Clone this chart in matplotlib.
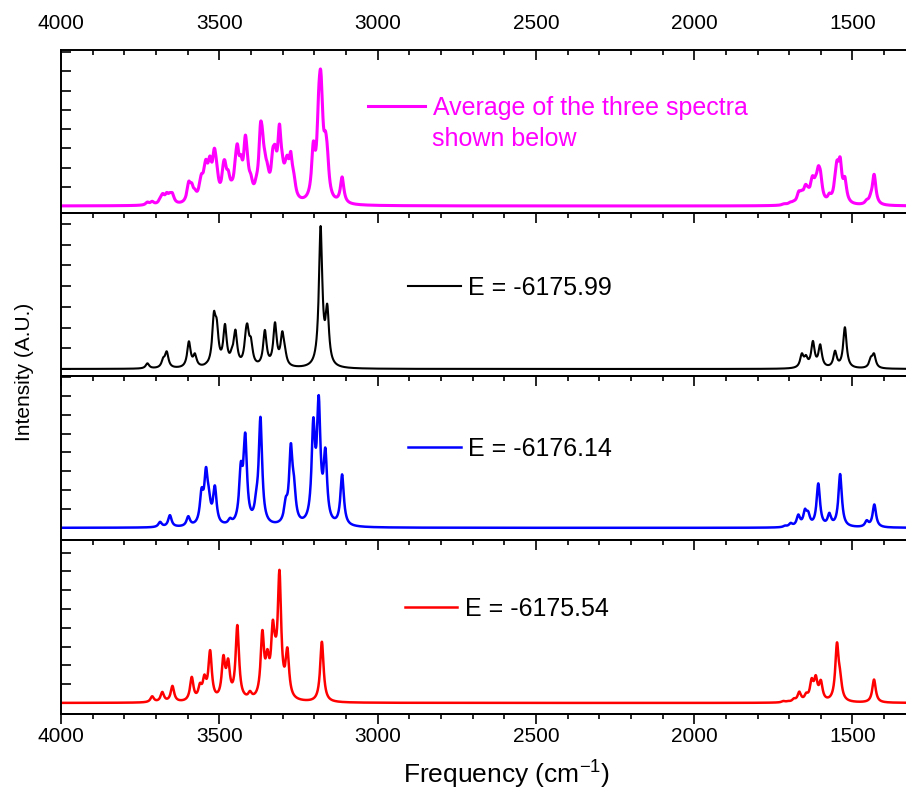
import numpy as np
import matplotlib.pyplot as plt
from matplotlib.ticker import MultipleLocator, FixedLocator

plt.rcParams['font.family'] = ['Liberation Sans', 'DejaVu Sans']
plt.rcParams['mathtext.default'] = 'regular'

# Peak positions (cm-1) and peak heights (arbitrary units)
black_pos = [3727, 3677, 3666, 3596, 3577, 3540, 3517, 3508, 3482, 3460, 3449, 3416, 3411, 3400,
             3356, 3324, 3301, 3293, 3180, 3159,
             1660, 1647, 1625, 1602, 1555, 1524, 1442, 1432]
black_h = [17, 35, 53, 83, 47, 20, 172, 150, 135, 65, 118, 120, 135, 95,
           117, 140, 113, 70, 428, 195,
           47, 42, 84, 74, 55, 125, 37, 47]

blue_pos = [3687, 3656, 3598, 3556, 3542, 3533, 3514, 3466, 3432, 3418, 3383, 3370,
            3290, 3274, 3264, 3203, 3186, 3165, 3112,
            1713, 1695, 1671, 1650, 1640, 1608, 1573, 1539, 1455, 1431]
blue_h = [18, 38, 35, 120, 182, 120, 127, 30, 198, 285, 117, 332,
          93, 253, 155, 330, 397, 240, 160,
          7, 15, 40, 57, 50, 133, 45, 161, 23, 70]

red_pos = [3712, 3680, 3648, 3587, 3561, 3547, 3529, 3487, 3472, 3443, 3421, 3403,
           3364, 3348, 3331, 3323, 3310, 3285, 3176,
           1718, 1703, 1685, 1668, 1646, 1629, 1616, 1600, 1549, 1539, 1432]
red_h = [20, 33, 51, 78, 60, 85, 158, 143, 133, 233, 30, 36,
         218, 161, 248, 200, 398, 166, 183,
         6, 6, 14, 34, 31, 74, 83, 69, 181, 98, 70]

labels = ['Average of the three spectra', 'E = -6175.99', 'E = -6176.14', 'E = -6175.54']
label2 = 'shown below'
colors = ['#FF00FF', 'black', '#0000FF', '#FF0000']
xticks_major = [4000, 3500, 3000, 2500, 2000, 1500]

freq = np.arange(1300, 4000.5, 0.5)
hwhm = 6.5  # lorentzian broadening


def lorentz(x, x0):
    return 1.0 / (1.0 + ((x - x0) / hwhm) ** 2)


def spectrum(pos, heights):
    pos = np.array(pos, float)
    h = np.array(heights, float)
    m = lorentz(pos[:, None], pos[None, :])
    amp = h.copy()
    # positive amplitudes so that the summed curve hits the read heights
    for _ in range(300):
        amp *= h / (m @ amp)
    return (amp[:, None] * lorentz(freq[None, :], pos[:, None])).sum(axis=0)


black = spectrum(black_pos, black_h)
blue = spectrum(blue_pos, blue_h)
red = spectrum(red_pos, red_h)
avg = (black + blue + red) / 3.0
curves = [avg, black, blue, red]

# layout (pixels of the 906x794 figure)
W, H = 906, 794
panels = [(50, 213), (213, 376), (376, 540), (540, 714)]
ylo = [0.051, 0.049, 0.0915, 0.083]
yhi = [1.138, 1.091, 1.144, 1.224]
ystep = [0.118, 0.127, 0.115, 0.108]
leg_xy = [(0.363, 0.644), (0.411, 0.54), (0.411, 0.555), (0.407, 0.603)]
hlen = [2.3, 2.1, 2.1, 2.1]
lws = [2.2, 1.5, 1.8, 1.8]

fig = plt.figure(figsize=(W / 100, H / 100), dpi=100)
left = 61 / W
axes = []
for i, (top, bot) in enumerate(panels):
    ax = fig.add_axes([left, 1 - bot / H, 1 - left, (bot - top) / H])
    ax.patch.set_alpha(0)
    y = curves[i]
    ax.plot(freq, y, color=colors[i], lw=lws[i], label=labels[i])
    M = y.max()
    ax.set_xlim(4000, 1331)
    ax.set_ylim(-ylo[i] * M, yhi[i] * M)
    ax.xaxis.set_major_locator(MultipleLocator(500))
    ax.xaxis.set_minor_locator(MultipleLocator(100))
    ax.yaxis.set_major_locator(MultipleLocator(ystep[i] * (yhi[i] + ylo[i]) * M))
    ax.tick_params(axis='x', which='both', direction='in', top=True, bottom=False,
                   labelbottom=False, labeltop=(i == 0), labelsize=15, pad=12)
    ax.tick_params(axis='x', which='major', length=7.2, width=1.2)
    ax.tick_params(axis='x', which='minor', length=3.6, width=1.2)
    ax.tick_params(axis='y', which='both', direction='in', length=7.2, width=1.2,
                   labelleft=False)
    ax.spines['right'].set_visible(False)
    for s in ['left', 'top', 'bottom']:
        ax.spines[s].set_linewidth(1.4)
    ax.legend(loc='center left', bbox_to_anchor=leg_xy[i], frameon=False,
              fontsize=18, handlelength=hlen[i], handletextpad=0.3,
              borderpad=0, borderaxespad=0,
              labelcolor=colors[0] if i == 0 else 'black')
    axes.append(ax)

# second line of the average-spectrum legend
axes[0].text(0.439, 0.455, label2, transform=axes[0].transAxes, color=colors[0],
             fontsize=18, ha='left', va='center')

# bottom axis with outward ticks and labels
sec = axes[-1].secondary_xaxis('bottom')
sec.xaxis.set_major_locator(FixedLocator(xticks_major))
sec.xaxis.set_minor_locator(FixedLocator(list(range(4000, 1331, -100))))
sec.tick_params(axis='x', which='major', direction='out', length=7.2, width=1.2,
                labelsize=15, pad=2)
sec.tick_params(axis='x', which='minor', direction='out', length=3.6, width=1.2)
sec.spines['bottom'].set_linewidth(1.4)

fig.text(507 / W, 1 - 775 / H, 'Frequency (cm$^{-1}$)', ha='center', va='center', fontsize=19)
fig.text(25 / W, 1 - 372 / H, 'Intensity (A.U.)', ha='center', va='center',
         rotation=90, fontsize=15)

fig.savefig('out.png', dpi=100)
